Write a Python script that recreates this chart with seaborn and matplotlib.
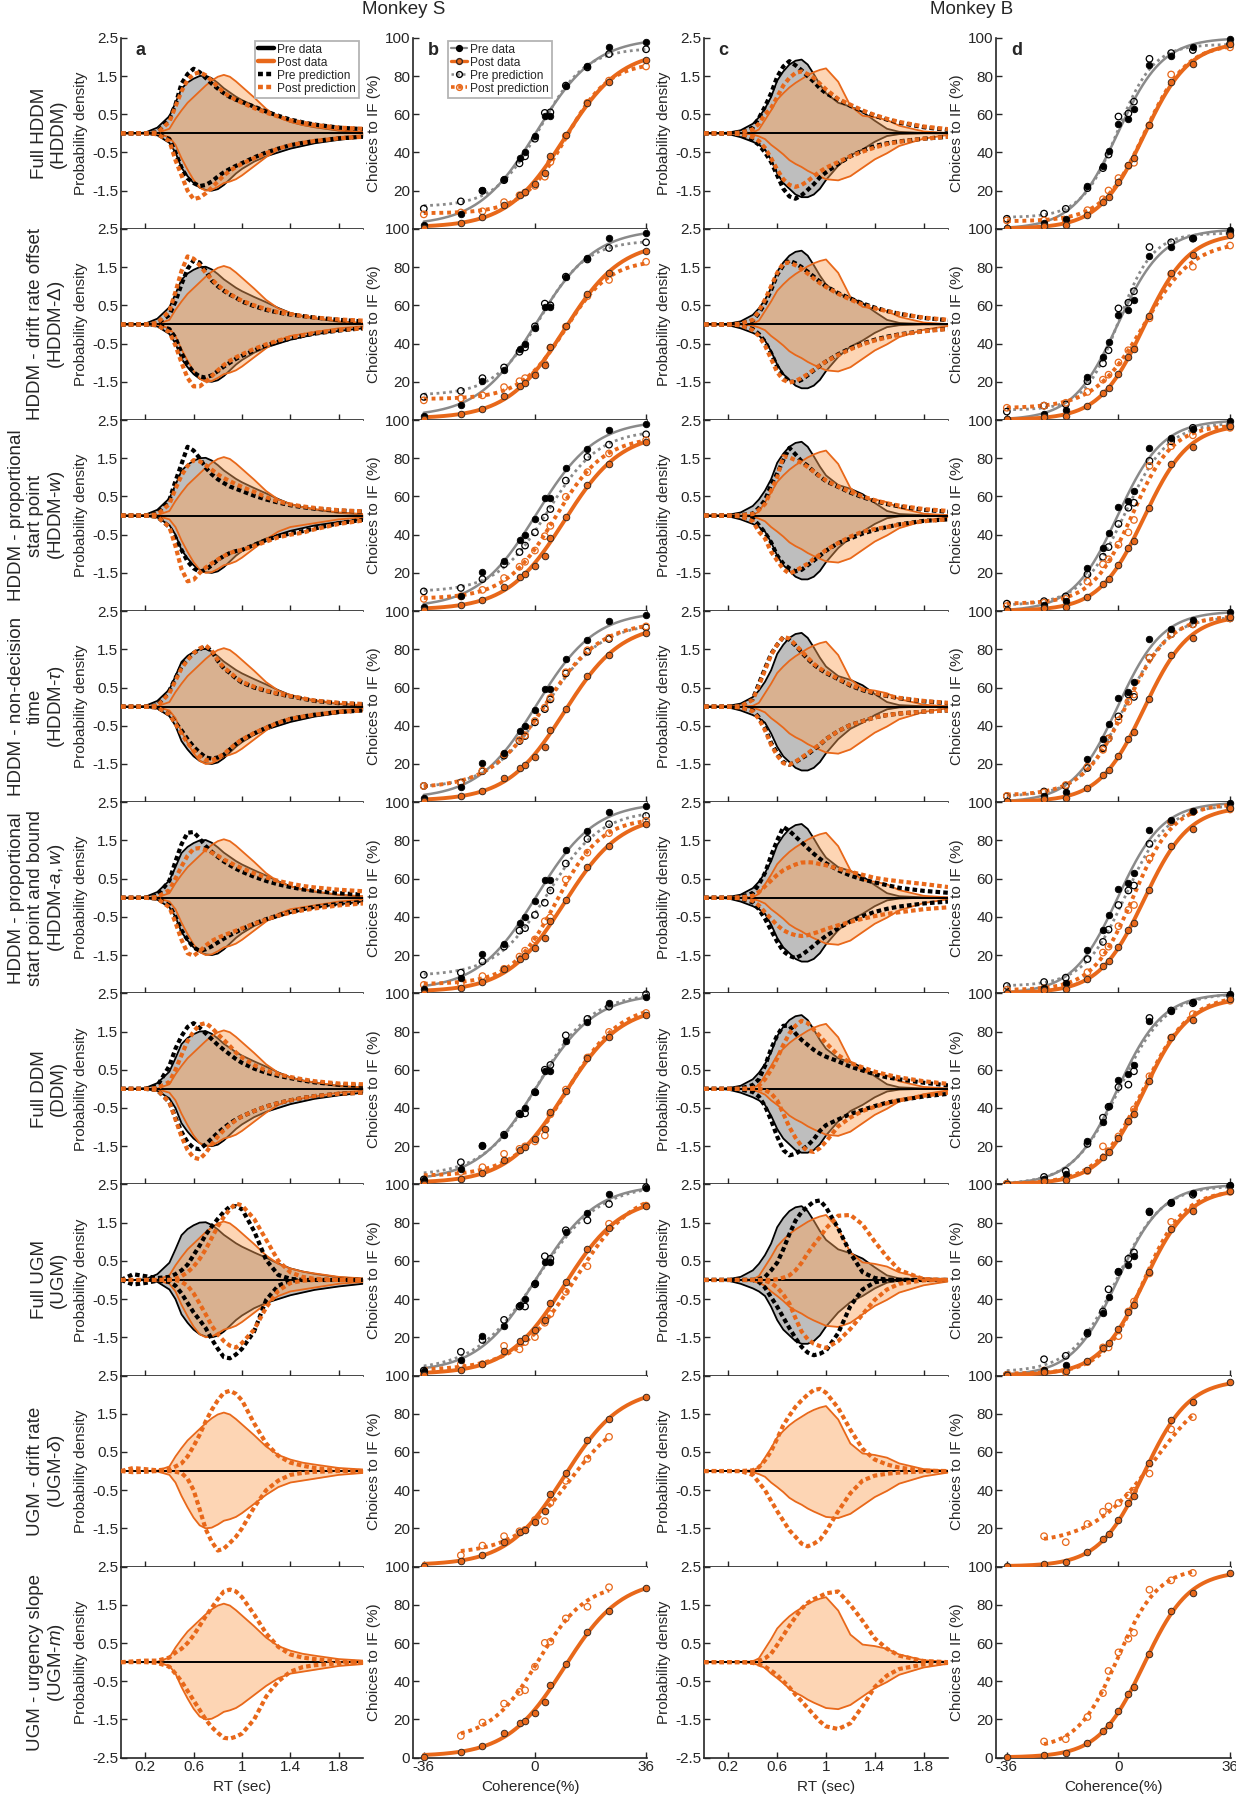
import numpy as np
import matplotlib
matplotlib.use("Agg")
import matplotlib.pyplot as plt
from matplotlib.lines import Line2D
import seaborn as sns

# ------------------------------------------------------------------ data
RT_GRID = [0, 0.1, 0.2, 0.3, 0.4, 0.45, 0.5, 0.55, 0.6, 0.65, 0.7, 0.75, 0.8,
           0.85, 0.9, 0.95, 1.0, 1.1, 1.2, 1.3, 1.4, 1.5, 1.6, 1.8, 2.0]
COH = [-36, -24, -17, -10, -5, -3.2, 0, 3.2, 5, 10, 17, 24, 36]

ROW_LABELS = ["Full HDDM\n(HDDM)",
              "HDDM - drift rate offset\n(HDDM-$\\mathit{Δ}$)",
              "HDDM - proportional\nstart point\n(HDDM-$\\mathit{w}$)",
              "HDDM - non-decision\ntime\n(HDDM-$\\mathit{τ}$)",
              "HDDM - proportional\nstart point and bound\n(HDDM-$\\mathit{a,w}$)",
              "Full DDM\n(DDM)",
              "Full UGM\n(UGM)",
              "UGM - drift rate\n(UGM-$\\mathit{δ}$)",
              "UGM - urgency slope\n(UGM-$\\mathit{m}$)"]
MONKEYS = ["Monkey S", "Monkey B"]
PANEL_LETTERS = ["a", "b", "c", "d"]
RT_TICKS = [0.2, 0.6, 1.0, 1.4, 1.8]
RT_TICKLABELS = ["0.2", "0.6", "1", "1.4", "1.8"]
DENS_TICKS = [-2.5, -1.5, -0.5, 0.5, 1.5, 2.5]
COH_TICKS = [-36, 0, 36]
CH_TICKS = [0, 20, 40, 60, 80, 100]

# ---- Monkey S : RT densities (upper = correct, lower = magnitude of error density)
S_pre_up = [0, 0, 0.02, 0.15, 0.45, 0.8, 1.17, 1.33, 1.43, 1.5, 1.51, 1.44, 1.32, 1.18, 1.07, 0.96, 0.87, 0.72, 0.58, 0.43, 0.3, 0.22, 0.16, 0.07, 0.03]
S_pre_lo = [0, 0, 0.01, 0.05, 0.25, 0.5, 0.9, 1.12, 1.3, 1.42, 1.48, 1.5, 1.46, 1.35, 1.2, 1.05, 0.93, 0.74, 0.6, 0.5, 0.4, 0.33, 0.26, 0.17, 0.1]
S_post_up = [0, 0, 0, 0.01, 0.12, 0.38, 0.6, 0.8, 0.95, 1.1, 1.25, 1.38, 1.48, 1.53, 1.48, 1.36, 1.22, 0.94, 0.64, 0.42, 0.3, 0.22, 0.17, 0.08, 0.04]
S_post_lo = [0, 0, 0, 0.01, 0.1, 0.3, 0.65, 0.95, 1.22, 1.42, 1.5, 1.48, 1.4, 1.3, 1.26, 1.2, 1.1, 0.86, 0.62, 0.42, 0.3, 0.25, 0.2, 0.1, 0.05]

S_prepred_up = [
    [0, 0, 0, 0.03, 0.38, 0.75, 1.3, 1.55, 1.69, 1.6, 1.45, 1.3, 1.17, 1.05, 0.95, 0.88, 0.82, 0.7, 0.57, 0.46, 0.36, 0.29, 0.23, 0.15, 0.11],
    [0, 0, 0, 0.03, 0.25, 0.6, 1.05, 1.45, 1.68, 1.62, 1.4, 1.15, 1.0, 0.88, 0.78, 0.7, 0.6, 0.48, 0.38, 0.31, 0.26, 0.22, 0.18, 0.12, 0.08],
    [0, 0, 0, 0.05, 0.41, 0.9, 1.35, 1.8, 1.7, 1.5, 1.25, 1.08, 0.95, 0.85, 0.76, 0.7, 0.64, 0.52, 0.42, 0.34, 0.27, 0.22, 0.18, 0.13, 0.1],
    [0, 0, 0, 0.03, 0.42, 0.75, 1.05, 1.25, 1.4, 1.5, 1.58, 1.45, 1.2, 1.0, 0.88, 0.74, 0.63, 0.5, 0.41, 0.33, 0.27, 0.21, 0.15, 0.09, 0.06],
    [0, 0, 0, 0.05, 0.45, 0.95, 1.4, 1.7, 1.72, 1.55, 1.35, 1.2, 1.07, 0.95, 0.85, 0.76, 0.68, 0.55, 0.44, 0.35, 0.28, 0.22, 0.18, 0.12, 0.08],
    [0, 0, 0, 0.08, 0.6, 1.05, 1.38, 1.62, 1.72, 1.6, 1.45, 1.3, 1.15, 1.02, 0.9, 0.78, 0.68, 0.53, 0.42, 0.34, 0.28, 0.22, 0.17, 0.11, 0.08],
    [0, 0.15, 0.1, 0.05, 0.08, 0.15, 0.25, 0.4, 0.65, 0.9, 1.18, 1.4, 1.6, 1.78, 1.92, 1.93, 1.85, 1.28, 0.52, 0.13, 0.03, 0, 0, 0, 0]]
S_prepred_lo = [
    [0, 0, 0, 0.02, 0.15, 0.5, 0.9, 1.18, 1.3, 1.38, 1.35, 1.26, 1.13, 1.02, 0.93, 0.85, 0.78, 0.63, 0.5, 0.4, 0.31, 0.25, 0.2, 0.13, 0.09],
    [0, 0, 0, 0.02, 0.12, 0.35, 0.75, 1.05, 1.25, 1.36, 1.39, 1.33, 1.22, 1.1, 1.0, 0.9, 0.82, 0.68, 0.55, 0.45, 0.37, 0.3, 0.24, 0.16, 0.1],
    [0, 0, 0, 0.03, 0.3, 0.58, 0.9, 1.2, 1.38, 1.47, 1.42, 1.3, 1.16, 1.06, 0.98, 0.93, 0.9, 0.77, 0.64, 0.54, 0.47, 0.41, 0.34, 0.2, 0.11],
    [0, 0, 0, 0.02, 0.2, 0.42, 0.62, 0.85, 1.05, 1.2, 1.33, 1.36, 1.33, 1.26, 1.12, 0.98, 0.87, 0.7, 0.55, 0.42, 0.32, 0.26, 0.21, 0.14, 0.1],
    [0, 0, 0, 0.02, 0.2, 0.5, 0.85, 1.1, 1.3, 1.39, 1.35, 1.27, 1.17, 1.07, 0.98, 0.9, 0.82, 0.68, 0.56, 0.46, 0.37, 0.3, 0.24, 0.16, 0.11],
    [0, 0, 0, 0.03, 0.35, 0.75, 1.12, 1.4, 1.55, 1.58, 1.45, 1.3, 1.15, 1.02, 0.9, 0.8, 0.72, 0.58, 0.46, 0.37, 0.3, 0.24, 0.19, 0.13, 0.1],
    [0, 0.12, 0.08, 0.02, 0.05, 0.15, 0.35, 0.6, 0.85, 1.05, 1.26, 1.55, 1.8, 2.02, 2.05, 1.95, 1.8, 1.35, 0.52, 0.15, 0.02, 0, 0, 0, 0]]
S_postpred_up = [
    [0, 0, 0, 0.02, 0.3, 0.7, 1.1, 1.4, 1.55, 1.6, 1.52, 1.38, 1.22, 1.07, 0.96, 0.88, 0.8, 0.66, 0.54, 0.44, 0.34, 0.28, 0.22, 0.15, 0.12],
    [0, 0, 0, 0.04, 0.35, 0.85, 1.4, 1.78, 1.72, 1.55, 1.35, 1.18, 1.03, 0.9, 0.8, 0.7, 0.62, 0.5, 0.4, 0.32, 0.27, 0.22, 0.18, 0.13, 0.1],
    [0, 0, 0, 0.03, 0.3, 0.7, 1.05, 1.3, 1.45, 1.42, 1.32, 1.2, 1.08, 0.98, 0.9, 0.82, 0.75, 0.62, 0.48, 0.37, 0.29, 0.24, 0.2, 0.14, 0.11],
    [0, 0, 0, 0.02, 0.35, 0.68, 1.0, 1.22, 1.4, 1.52, 1.6, 1.47, 1.22, 1.02, 0.9, 0.76, 0.65, 0.52, 0.42, 0.34, 0.28, 0.22, 0.16, 0.1, 0.07],
    [0, 0, 0, 0.02, 0.2, 0.5, 0.82, 1.1, 1.28, 1.3, 1.25, 1.18, 1.1, 1.0, 0.92, 0.84, 0.77, 0.64, 0.53, 0.44, 0.37, 0.31, 0.27, 0.21, 0.17],
    [0, 0, 0, 0.02, 0.18, 0.5, 0.88, 1.25, 1.5, 1.68, 1.72, 1.6, 1.43, 1.28, 1.12, 0.95, 0.82, 0.62, 0.48, 0.38, 0.31, 0.25, 0.2, 0.14, 0.12],
    [0, 0, 0, 0, 0, 0.03, 0.1, 0.2, 0.35, 0.55, 0.8, 1.1, 1.4, 1.65, 1.85, 2.0, 1.95, 1.6, 1.05, 0.5, 0.2, 0.08, 0.03, 0, 0],
    [0, 0.08, 0.05, 0.02, 0.05, 0.12, 0.2, 0.38, 0.65, 0.95, 1.3, 1.6, 1.85, 2.05, 2.1, 2.02, 1.85, 1.25, 0.72, 0.4, 0.22, 0.14, 0.08, 0.02, 0],
    [0, 0.02, 0.04, 0.04, 0.12, 0.25, 0.35, 0.5, 0.7, 0.95, 1.2, 1.42, 1.65, 1.85, 1.9, 1.85, 1.7, 1.25, 0.75, 0.4, 0.2, 0.12, 0.08, 0.02, 0]]
S_postpred_lo = [
    [0, 0, 0, 0.02, 0.2, 0.7, 1.1, 1.5, 1.72, 1.68, 1.57, 1.42, 1.26, 1.1, 0.98, 0.88, 0.8, 0.65, 0.52, 0.4, 0.31, 0.25, 0.2, 0.13, 0.09],
    [0, 0, 0, 0.02, 0.2, 0.55, 1.0, 1.4, 1.62, 1.62, 1.5, 1.35, 1.2, 1.06, 0.95, 0.86, 0.78, 0.64, 0.52, 0.42, 0.34, 0.28, 0.22, 0.15, 0.1],
    [0, 0, 0, 0.03, 0.3, 0.8, 1.4, 1.72, 1.68, 1.5, 1.36, 1.25, 1.15, 1.06, 0.98, 0.93, 0.9, 0.8, 0.68, 0.57, 0.5, 0.45, 0.36, 0.22, 0.13],
    [0, 0, 0, 0.02, 0.2, 0.45, 0.7, 0.95, 1.15, 1.3, 1.4, 1.4, 1.33, 1.24, 1.1, 0.97, 0.86, 0.69, 0.55, 0.42, 0.32, 0.26, 0.21, 0.14, 0.1],
    [0, 0, 0, 0.02, 0.25, 0.65, 1.1, 1.45, 1.52, 1.4, 1.25, 1.13, 1.05, 0.98, 0.92, 0.86, 0.8, 0.68, 0.57, 0.47, 0.39, 0.33, 0.28, 0.2, 0.15],
    [0, 0, 0, 0.03, 0.35, 0.8, 1.25, 1.6, 1.8, 1.84, 1.68, 1.45, 1.25, 1.08, 0.94, 0.82, 0.72, 0.58, 0.46, 0.37, 0.3, 0.24, 0.19, 0.13, 0.1],
    [0, 0, 0, 0, 0, 0, 0.05, 0.15, 0.35, 0.62, 0.9, 1.2, 1.42, 1.6, 1.72, 1.77, 1.65, 1.3, 0.72, 0.28, 0.08, 0.02, 0, 0, 0],
    [0, 0.03, 0.02, 0, 0, 0.02, 0.05, 0.2, 0.5, 1.0, 1.52, 1.85, 2.08, 2.03, 1.88, 1.72, 1.5, 0.95, 0.5, 0.25, 0.1, 0.05, 0.02, 0, 0],
    [0, 0, 0, 0.02, 0.12, 0.3, 0.5, 0.75, 1.0, 1.25, 1.5, 1.7, 1.85, 1.98, 2.0, 1.95, 1.87, 1.5, 0.9, 0.5, 0.25, 0.13, 0.08, 0.03, 0]]

# ---- Monkey B : RT densities
B_pre_up = [0, 0, 0.02, 0.08, 0.25, 0.42, 0.65, 0.95, 1.38, 1.62, 1.8, 1.9, 1.93, 1.8, 1.55, 1.28, 1.05, 0.8, 0.7, 0.56, 0.33, 0.12, 0.04, 0.01, 0]
B_pre_lo = [0, 0, 0.02, 0.1, 0.22, 0.3, 0.42, 0.7, 1.05, 1.3, 1.45, 1.6, 1.67, 1.67, 1.6, 1.45, 1.22, 0.85, 0.58, 0.42, 0.22, 0.07, 0.02, 0, 0]
B_post_up = [0, 0, 0, 0, 0.02, 0.1, 0.35, 0.6, 0.88, 1.05, 1.2, 1.32, 1.42, 1.52, 1.6, 1.66, 1.7, 1.35, 0.72, 0.46, 0.42, 0.35, 0.2, 0.05, 0.01]
B_post_lo = [0, 0, 0, 0, 0.03, 0.08, 0.15, 0.3, 0.42, 0.55, 0.7, 0.8, 0.88, 0.98, 1.06, 1.13, 1.2, 1.23, 1.12, 0.9, 0.68, 0.52, 0.33, 0.14, 0.04]

B_prepred_up = [
    [0, 0, 0, 0.02, 0.15, 0.4, 0.7, 1.05, 1.48, 1.75, 1.89, 1.78, 1.65, 1.5, 1.35, 1.18, 1.05, 0.88, 0.72, 0.58, 0.46, 0.36, 0.28, 0.16, 0.09],
    [0, 0, 0, 0.02, 0.1, 0.3, 0.55, 0.9, 1.3, 1.55, 1.67, 1.6, 1.5, 1.38, 1.25, 1.12, 1.0, 0.82, 0.68, 0.55, 0.44, 0.35, 0.28, 0.17, 0.11],
    [0, 0, 0, 0.01, 0.05, 0.2, 0.4, 0.8, 1.1, 1.45, 1.77, 1.6, 1.42, 1.3, 1.15, 1.02, 0.9, 0.75, 0.6, 0.48, 0.38, 0.3, 0.24, 0.15, 0.1],
    [0, 0, 0, 0.01, 0.2, 0.6, 1.0, 1.38, 1.62, 1.82, 1.75, 1.6, 1.42, 1.25, 1.1, 0.98, 0.88, 0.72, 0.55, 0.43, 0.34, 0.28, 0.22, 0.14, 0.09],
    [0, 0, 0, 0.02, 0.12, 0.35, 0.65, 1.1, 1.5, 1.85, 1.75, 1.6, 1.45, 1.3, 1.15, 1.02, 0.9, 0.72, 0.58, 0.48, 0.4, 0.33, 0.26, 0.18, 0.13],
    [0, 0, 0, 0.01, 0.1, 0.25, 0.6, 1.05, 1.4, 1.65, 1.65, 1.45, 1.28, 1.15, 1.02, 0.92, 0.84, 0.72, 0.58, 0.48, 0.38, 0.3, 0.25, 0.16, 0.09],
    [0, 0, 0, 0, 0, 0.02, 0.08, 0.25, 0.45, 0.8, 1.2, 1.55, 1.78, 1.92, 2.05, 2.08, 1.9, 1.35, 0.7, 0.2, 0.05, 0.01, 0, 0, 0]]
B_prepred_lo = [
    [0, 0, 0, 0.02, 0.18, 0.3, 0.5, 0.75, 1.1, 1.45, 1.65, 1.71, 1.62, 1.48, 1.33, 1.15, 1.02, 0.8, 0.6, 0.45, 0.33, 0.26, 0.21, 0.14, 0.09],
    [0, 0, 0, 0.02, 0.12, 0.25, 0.45, 0.75, 1.1, 1.35, 1.48, 1.52, 1.45, 1.33, 1.2, 1.08, 0.97, 0.78, 0.62, 0.5, 0.4, 0.32, 0.26, 0.17, 0.11],
    [0, 0, 0, 0.02, 0.08, 0.25, 0.45, 0.7, 1.05, 1.26, 1.38, 1.46, 1.42, 1.3, 1.18, 1.05, 0.92, 0.72, 0.6, 0.47, 0.38, 0.3, 0.23, 0.14, 0.1],
    [0, 0, 0, 0.02, 0.1, 0.28, 0.55, 0.95, 1.22, 1.45, 1.52, 1.45, 1.35, 1.25, 1.12, 1.0, 0.85, 0.64, 0.48, 0.38, 0.28, 0.22, 0.18, 0.13, 0.1],
    [0, 0, 0, 0.02, 0.12, 0.3, 0.55, 0.85, 1.15, 1.4, 1.52, 1.58, 1.5, 1.38, 1.25, 1.12, 1.0, 0.8, 0.62, 0.48, 0.37, 0.29, 0.23, 0.15, 0.1],
    [0, 0, 0, 0.02, 0.08, 0.2, 0.45, 0.82, 1.25, 1.6, 1.74, 1.7, 1.6, 1.48, 1.32, 1.1, 0.95, 0.8, 0.66, 0.55, 0.45, 0.36, 0.3, 0.2, 0.13],
    [0, 0, 0, 0, 0, 0.05, 0.2, 0.45, 0.7, 0.98, 1.26, 1.52, 1.75, 1.9, 1.97, 1.93, 1.85, 1.39, 0.68, 0.25, 0.06, 0.01, 0, 0, 0]]
B_postpred_up = [
    [0, 0, 0, 0.02, 0.1, 0.25, 0.5, 0.66, 0.95, 1.25, 1.45, 1.58, 1.62, 1.55, 1.45, 1.3, 1.15, 0.9, 0.75, 0.6, 0.48, 0.38, 0.3, 0.18, 0.11],
    [0, 0, 0, 0.02, 0.12, 0.35, 0.65, 1.0, 1.35, 1.6, 1.62, 1.55, 1.45, 1.33, 1.2, 1.08, 0.98, 0.8, 0.65, 0.52, 0.42, 0.35, 0.28, 0.18, 0.12],
    [0, 0, 0, 0.01, 0.04, 0.15, 0.3, 0.65, 1.0, 1.55, 1.52, 1.45, 1.38, 1.27, 1.15, 1.03, 0.92, 0.76, 0.62, 0.5, 0.4, 0.32, 0.26, 0.17, 0.12],
    [0, 0, 0, 0.01, 0.18, 0.55, 0.95, 1.35, 1.62, 1.83, 1.78, 1.62, 1.45, 1.28, 1.12, 1.0, 0.9, 0.73, 0.57, 0.45, 0.36, 0.29, 0.23, 0.15, 0.1],
    [0, 0, 0, 0.01, 0.05, 0.15, 0.3, 0.45, 0.6, 0.72, 0.8, 0.87, 0.92, 0.93, 0.92, 0.88, 0.85, 0.76, 0.68, 0.6, 0.52, 0.47, 0.43, 0.36, 0.28],
    [0, 0, 0, 0, 0.02, 0.08, 0.25, 0.5, 0.8, 1.15, 1.45, 1.65, 1.78, 1.72, 1.55, 1.38, 1.2, 0.88, 0.68, 0.56, 0.45, 0.37, 0.3, 0.2, 0.13],
    [0, 0, 0, 0, 0, 0, 0, 0, 0.02, 0.06, 0.12, 0.25, 0.45, 0.7, 0.92, 1.12, 1.35, 1.68, 1.7, 1.45, 1.0, 0.6, 0.26, 0.02, 0],
    [0, 0, 0, 0, 0.02, 0.1, 0.28, 0.52, 0.85, 1.2, 1.45, 1.68, 1.85, 2.0, 2.12, 2.15, 2.05, 1.65, 1.08, 0.58, 0.3, 0.17, 0.09, 0.01, 0],
    [0, 0, 0, 0, 0, 0.03, 0.1, 0.22, 0.45, 0.7, 0.95, 1.18, 1.4, 1.55, 1.65, 1.72, 1.8, 1.85, 1.5, 1.08, 0.62, 0.35, 0.17, 0.03, 0]]
B_postpred_lo = [
    [0, 0, 0, 0.02, 0.1, 0.2, 0.38, 0.65, 0.95, 1.2, 1.35, 1.4, 1.35, 1.25, 1.12, 1.0, 0.9, 0.75, 0.6, 0.48, 0.37, 0.28, 0.22, 0.14, 0.09],
    [0, 0, 0, 0.02, 0.15, 0.3, 0.55, 0.9, 1.25, 1.45, 1.52, 1.48, 1.4, 1.3, 1.18, 1.07, 0.97, 0.8, 0.65, 0.52, 0.42, 0.34, 0.27, 0.18, 0.12],
    [0, 0, 0, 0.02, 0.15, 0.42, 0.6, 0.95, 1.18, 1.4, 1.52, 1.45, 1.35, 1.26, 1.13, 1.02, 0.9, 0.72, 0.55, 0.42, 0.35, 0.3, 0.24, 0.15, 0.1],
    [0, 0, 0, 0.02, 0.12, 0.32, 0.62, 1.0, 1.28, 1.48, 1.52, 1.44, 1.33, 1.22, 1.1, 0.98, 0.85, 0.64, 0.48, 0.38, 0.28, 0.22, 0.18, 0.13, 0.1],
    [0, 0, 0, 0.01, 0.08, 0.2, 0.38, 0.55, 0.72, 0.85, 0.93, 0.98, 1.0, 0.98, 0.93, 0.88, 0.82, 0.72, 0.63, 0.55, 0.48, 0.42, 0.38, 0.3, 0.25],
    [0, 0, 0, 0, 0, 0, 0.03, 0.12, 0.3, 0.65, 1.0, 1.28, 1.5, 1.62, 1.65, 1.55, 1.38, 0.98, 0.75, 0.58, 0.47, 0.38, 0.3, 0.18, 0.1],
    [0, 0, 0, 0, 0, 0, 0.02, 0.08, 0.2, 0.38, 0.62, 1.0, 1.35, 1.55, 1.67, 1.73, 1.78, 1.6, 1.28, 0.9, 0.52, 0.25, 0.1, 0.01, 0],
    [0, 0, 0, 0, 0.1, 0.3, 0.5, 0.78, 1.05, 1.3, 1.55, 1.72, 1.9, 1.97, 1.9, 1.8, 1.58, 1.05, 0.58, 0.25, 0.12, 0.07, 0.04, 0.01, 0],
    [0, 0, 0, 0, 0.02, 0.06, 0.12, 0.22, 0.34, 0.5, 0.66, 0.85, 1.02, 1.2, 1.38, 1.55, 1.68, 1.75, 1.6, 1.15, 0.65, 0.35, 0.18, 0.06, 0.02]]

# ---- choices to IF (%)
NA = np.nan
S_pre_ch = [2.3, 8, 20.6, 26, 37, 40, 48.4, 59.3, 59.3, 75, 85, 95, 98]
S_post_ch = [0.4, 3, 6, 12.7, 18, 19.4, 23.6, 29, 38, 49, 66, 77, 88.6]
S_prepred_ch = [
    [10.6, 14.4, 19.9, 25.5, 34.3, 38, 47.2, 60.7, 61, 75, 84.5, 91.5, 94],
    [12.1, 15.2, 21.9, 27.5, 35.7, 38, 49, 60.9, 60, 75, 84, 90, 93],
    [10.3, 12.1, 16.7, 24.5, 30.9, 34.3, 41.2, 49, 53.4, 68.3, 80.7, 87.1, 92.5],
    [8.5, 10.3, 16.2, 24.4, 32, 34.6, 41.8, 48.7, 53.8, 67.4, 78.7, 85.4, 91.5],
    [9.7, 10.8, 16.7, 24.4, 32.8, 34.1, 41, 47.4, 53.8, 67.9, 80.8, 88.5, 92.8],
    [2.6, 11.6, 20, 26, 37, 37.2, 48.3, 60, 62.5, 78, 86.6, 93, 99.5],
    [2.6, 12.4, 18.6, 29.1, 36.1, 36.1, 47.7, 62.4, 61.1, 76, 81.2, 89.7, 98.5]]
S_postpred_ch = [
    [7.6, 8.6, 9.2, 14, 17.6, 19, 22.5, 27.3, 35, 48.6, 66, 77.6, 85],
    [10.3, 11.3, 12.9, 17.2, 20.3, 21.9, 24.2, 29.3, 37.8, 48.8, 64.8, 73.3, 82.8],
    [6.4, 7.7, 11.1, 17.3, 23.2, 25.8, 31.7, 39.2, 44.6, 59.8, 72.7, 82.5, 89.4],
    [8.5, 10.0, 16.5, 25, 32.5, 35, 42.5, 49.5, 54.5, 68, 79.5, 86, 92],
    [4.4, 5.1, 9, 12.8, 19.2, 22.3, 28.2, 37.7, 39.7, 59.5, 73.6, 83.8, 90.3],
    [1, 6.5, 9, 16, 18.6, 19.9, 22.5, 25.6, 36.7, 49.6, 66.4, 79.8, 89.7],
    [0.5, 5.9, 5.9, 15.5, 13.7, 17.5, 20.1, 27.6, 32.2, 43.8, 57.2, 79.4, 88.9],
    [NA, 5.9, 11, 15.9, 18.5, 19.2, 24.4, 23.8, 33.3, 44.9, 56.4, 67.9, NA],
    [NA, 11.4, 18.4, 28.3, 34.4, 35.3, 47.6, 60.1, 60.7, 72.9, 79, 89.2, NA]]

B_pre_ch = [0.4, 3, 5.3, 22.6, 32.9, 40.9, 54.7, 57.7, 62.7, 85.6, 90.6, 95.4, 99.5]
B_post_ch = [0.4, 1.6, 2.3, 7.5, 14.2, 16.9, 24.3, 33.2, 36.9, 54.2, 76.9, 86.1, 96.8]
B_prepred_ch = [
    [5.3, 8, 10.5, 21.3, 31.8, 38.9, 58.8, 60.4, 66.6, 89, 92, 93.6, 96.8],
    [4.4, 7.5, 8.2, 20.3, 29.6, 36.5, 58.4, 61.4, 67.4, 90.5, 93, 94.9, 97.7],
    [3.9, 5.2, 7.7, 19.3, 28.4, 33.5, 45.6, 54.1, 56.7, 78.6, 88.9, 95.9, 96.6],
    [3.1, 5.6, 8.5, 17.9, 28.2, 33.3, 44.9, 56.4, 55.1, 75.6, 87.9, 93.1, 96.2],
    [3.8, 5.9, 8.2, 17.9, 26.9, 33.3, 46.2, 53.8, 56.4, 78.2, 89.7, 94.9, 96.7],
    [0.3, 3.9, 7, 21.2, 34.9, 40.6, 50.9, 52.2, 59.2, 87.1, 91, 94.8, 98.7],
    [0.3, 8.5, 10.3, 21.9, 33.5, 45.1, 54.1, 61.1, 64.4, 85.8, 90.2, 94.6, 99.2]]
B_postpred_ch = [
    [4.4, 4.4, 4.4, 9.8, 15.5, 20.1, 26.6, 32.9, 34.6, 54.2, 80.8, 86.7, 95],
    [6.4, 7.5, 9, 14.7, 21.1, 23.7, 30.1, 36.5, 37.8, 53.2, 76.3, 80.2, 91.3],
    [2.6, 4.4, 6.4, 15.5, 24.5, 27.1, 34.8, 41.2, 47.7, 76, 86.3, 92, 95.9],
    [3.3, 5.1, 9, 18.5, 27.4, 33.3, 42.8, 52.6, 56.4, 75.6, 87.9, 93.1, 96.2],
    [1.8, 2.6, 4.4, 11, 21.3, 24.4, 35.1, 43.6, 46.2, 70.5, 89.7, 94.9, 96.2],
    [0.3, 1.3, 3.1, 7, 19.9, 17.3, 25.1, 32.8, 39.3, 56.6, 76.7, 89.1, 96.1],
    [0.3, 2.6, 1.8, 7, 14.7, 14.7, 20.6, 33.5, 38.7, 53.4, 80.4, 87.6, 96.1],
    [NA, 15.9, 12.8, 22.3, 28.7, 31.5, 33.3, 37.2, 39.7, 48.7, 71.8, 78.2, NA],
    [NA, 8.5, 9.7, 21.3, 33.8, 45.4, 55.1, 62.3, 65.4, 87.9, 92.8, 96.7, NA]]

# ------------------------------------------------------------------ style
sns.set_style("ticks")
plt.rcParams["font.family"] = ["Liberation Sans", "DejaVu Sans"]
plt.rcParams["mathtext.fontset"] = "custom"
plt.rcParams["mathtext.it"] = "Liberation Sans:italic"
plt.rcParams["mathtext.rm"] = "Liberation Sans"
plt.rcParams["axes.unicode_minus"] = False

ORANGE = "#E8681A"
ORANGE_FILL = "#FBA35A"
GRAY_FILL = "#BEBEBE"
FIT_GRAY = "#8A8A8A"
DOT = (0, (1.1, 0.75))
TICK_FS = 11
LAB_FS = 11

W, H = 1236, 1800
COL_X = [121, 413, 704, 996]
COL_W = [242, 234, 244, 235]
TOP = 37.8
ROW_H = 191.1


def fit_logistic(x, y):
    m = ~np.isnan(y)
    x, y = x[m], y[m]
    mu = np.arange(-30, 30.01, 0.25)
    sc = np.arange(1.5, 30, 0.25)
    M, S = np.meshgrid(mu, sc, indexing="ij")
    g = 1.0 / (1.0 + np.exp(-(x[None, None, :] - M[..., None]) / S[..., None]))
    a, b = 1 - g, g
    saa, sbb, sab = (a * a).sum(-1), (b * b).sum(-1), (a * b).sum(-1)
    say, sby = (a * y).sum(-1), (b * y).sum(-1)
    det = saa * sbb - sab ** 2
    lo = np.clip((say * sbb - sby * sab) / det, 0, 100)
    hi = np.clip((sby * saa - say * sab) / det, 0, 100)
    pred = lo[..., None] + (hi - lo)[..., None] * g
    sse = ((pred - y) ** 2).sum(-1)
    i = np.unravel_index(np.argmin(sse), sse.shape)
    xs = np.linspace(x.min(), x.max(), 200)
    ys = lo[i] + (hi[i] - lo[i]) / (1 + np.exp(-(xs - M[i]) / S[i]))
    return xs, ys


def line(ax, x, y, **kw):
    sns.lineplot(x=np.asarray(x, float), y=np.asarray(y, float), ax=ax,
                 estimator=None, sort=False, **kw)


def density_panel(ax, pre_up, pre_lo, post_up, post_lo, pp_up, pp_lo, qp_up, qp_lo):
    x = np.array(RT_GRID)
    if pre_up is not None:
        ax.fill_between(x, -np.array(pre_lo), pre_up, color=GRAY_FILL, lw=0, zorder=1)
        line(ax, x, pre_up, color="k", lw=1.3, zorder=2)
        line(ax, x, -np.array(pre_lo), color="k", lw=1.3, zorder=2)
    ax.fill_between(x, -np.array(post_lo), post_up, color=ORANGE_FILL, alpha=0.45, lw=0, zorder=3)
    line(ax, x, post_up, color=ORANGE, lw=1.3, zorder=4)
    line(ax, x, -np.array(post_lo), color=ORANGE, lw=1.3, zorder=4)
    ax.axhline(0, color="k", lw=1.4, zorder=5)
    if pp_up is not None:
        line(ax, x, pp_up, color="k", lw=3.0, linestyle=DOT, zorder=6)
        line(ax, x, -np.array(pp_lo), color="k", lw=3.0, linestyle=DOT, zorder=6)
    line(ax, x, qp_up, color=ORANGE, lw=3.0, linestyle=DOT, zorder=7)
    line(ax, x, -np.array(qp_lo), color=ORANGE, lw=3.0, linestyle=DOT, zorder=7)
    ax.set_xlim(0, 2.0)
    ax.set_ylim(-2.5, 2.5)


def psych_panel(ax, pre_d, post_d, pre_p, post_p):
    x = np.array(COH, float)
    if pre_d is not None:
        xs, ys = fit_logistic(x, np.array(pre_d, float))
        line(ax, xs, ys, color=FIT_GRAY, lw=1.8, zorder=2)
        xs, ys = fit_logistic(x, np.array(pre_p, float))
        line(ax, xs, ys, color=FIT_GRAY, lw=2.0, linestyle=(0, (1, 1.3)), zorder=2)
    xs, ys = fit_logistic(x, np.array(post_d, float))
    line(ax, xs, ys, color=ORANGE, lw=2.8, zorder=3)
    xs, ys = fit_logistic(x, np.array(post_p, float))
    line(ax, xs, ys, color=ORANGE, lw=2.8, linestyle=(0, (1, 1)), zorder=3)
    if pre_d is not None:
        sns.scatterplot(x=x, y=np.array(pre_p, float), ax=ax, s=22, facecolor="none",
                        edgecolor="k", linewidth=0.9, zorder=5, clip_on=False)
        sns.scatterplot(x=x, y=np.array(pre_d, float), ax=ax, s=22, color="k",
                        edgecolor="k", linewidth=0.6, zorder=6, clip_on=False)
    sns.scatterplot(x=x, y=np.array(post_p, float), ax=ax, s=22, facecolor="none",
                    edgecolor=ORANGE, linewidth=0.9, zorder=5, clip_on=False)
    sns.scatterplot(x=x, y=np.array(post_d, float), ax=ax, s=22, color=ORANGE,
                    edgecolor="#3a2a20", linewidth=0.7, zorder=6, clip_on=False)
    ax.set_xlim(-39.5, 36.3)
    ax.set_ylim(0, 100)


fig = plt.figure(figsize=(W / 100, H / 100), dpi=100)

monkey_data = [
    (S_pre_up, S_pre_lo, S_post_up, S_post_lo, S_prepred_up, S_prepred_lo,
     S_postpred_up, S_postpred_lo, S_pre_ch, S_post_ch, S_prepred_ch, S_postpred_ch),
    (B_pre_up, B_pre_lo, B_post_up, B_post_lo, B_prepred_up, B_prepred_lo,
     B_postpred_up, B_postpred_lo, B_pre_ch, B_post_ch, B_prepred_ch, B_postpred_ch)]

n_rows = len(ROW_LABELS)
for r in range(n_rows):
    bottom_px = TOP + (r + 1) * ROW_H
    last = r == n_rows - 1
    for m, md in enumerate(monkey_data):
        (pu, pl, qu, ql, ppu, ppl, qpu, qpl, pch, qch, ppch, qpch) = md
        has_pre = r < len(ppu)
        # density panel
        c = 2 * m
        ax = fig.add_axes([COL_X[c] / W, 1 - bottom_px / H, COL_W[c] / W, ROW_H / H])
        density_panel(ax, pu if has_pre else None, pl, qu, ql,
                      ppu[r] if has_pre else None, ppl[r] if has_pre else None,
                      qpu[r], qpl[r])
        ax.set_yticks(DENS_TICKS)
        ax.set_yticklabels(["-2.5" if last else "", "-1.5", "-0.5", "0.5", "1.5", "2.5"])
        ax.set_xticks(RT_TICKS)
        ax.set_xticklabels(RT_TICKLABELS if last else [])
        ax.set_ylabel("Probability density", fontsize=LAB_FS, labelpad=3)
        if last:
            ax.set_xlabel("RT (sec)", fontsize=LAB_FS)
        if r == 0:
            ax.text(0.06, 0.935, PANEL_LETTERS[c], transform=ax.transAxes,
                    fontsize=13, fontweight="bold", va="center", ha="left")
        # psychometric panel
        c = 2 * m + 1
        ax2 = fig.add_axes([COL_X[c] / W, 1 - bottom_px / H, COL_W[c] / W, ROW_H / H])
        psych_panel(ax2, pch if has_pre else None, qch,
                    ppch[r] if has_pre else None, qpch[r])
        ax2.set_yticks(CH_TICKS)
        ax2.set_yticklabels(["0" if last else "", "20", "40", "60", "80", "100"])
        ax2.set_xticks(COH_TICKS)
        ax2.set_xticklabels(["-36", "0", "36"] if last else [])
        ax2.set_ylabel("Choices to IF (%)", fontsize=LAB_FS, labelpad=3)
        if last:
            ax2.set_xlabel("Coherence(%)", fontsize=LAB_FS)
        if r == 0:
            ax2.text(0.065, 0.935, PANEL_LETTERS[c], transform=ax2.transAxes,
                     fontsize=13, fontweight="bold", va="center", ha="left")
        for a_ in (ax, ax2):
            sns.despine(ax=a_, top=True, right=True)
            a_.tick_params(direction="in", length=4, width=1, labelsize=TICK_FS, pad=2)
            for s_ in ("left", "bottom"):
                a_.spines[s_].set_linewidth(1.2)
        if r == 0 and m == 0:
            h_a = [Line2D([0], [0], color="k", lw=3.2),
                   Line2D([0], [0], color=ORANGE, lw=3.2),
                   Line2D([0], [0], color="k", lw=3.2, linestyle=DOT),
                   Line2D([0], [0], color=ORANGE, lw=3.2, linestyle=DOT)]
            labs = ["Pre data", "Post data", "Pre prediction", "Post prediction"]
            for axx, handles, x0 in ((ax, h_a, 0.555), (ax2, None, 0.15)):
                if handles is None:
                    handles = [
                        Line2D([0], [0], color=FIT_GRAY, lw=1.6, marker="o", ms=4.2, mfc="k", mec="k"),
                        Line2D([0], [0], color=ORANGE, lw=2.4, marker="o", ms=4.2, mfc=ORANGE, mec="#3a2a20"),
                        Line2D([0], [0], color=FIT_GRAY, lw=1.8, linestyle=(0, (1, 1.3)), marker="o", ms=4.2, mfc="none", mec="k"),
                        Line2D([0], [0], color=ORANGE, lw=2.6, linestyle=(0, (1, 1)), marker="o", ms=4.2, mfc="none", mec=ORANGE)]
                leg = axx.legend(handles, labs, loc="upper left", bbox_to_anchor=(x0, 0.985),
                                 borderaxespad=0, fontsize=8.6, handlelength=1.3,
                                 handletextpad=0.3, labelspacing=0.08, borderpad=0.25,
                                 frameon=True, fancybox=False, framealpha=1)
                leg.get_frame().set_edgecolor("#b4b4b4")
                leg.get_frame().set_linewidth(1.3)
                leg.set_zorder(20)
    # row label
    fig.text(67 / W, 1 - (TOP + (r + 0.5) * ROW_H) / H, ROW_LABELS[r], rotation=90,
             ha="right", va="center", multialignment="center", fontsize=13.5,
             linespacing=1.15)

fig.text(404 / W, 1 - 9 / H, MONKEYS[0], ha="center", va="center", fontsize=13.5)
fig.text(972 / W, 1 - 9 / H, MONKEYS[1], ha="center", va="center", fontsize=13.5)

fig.savefig("out.png", dpi=100)
